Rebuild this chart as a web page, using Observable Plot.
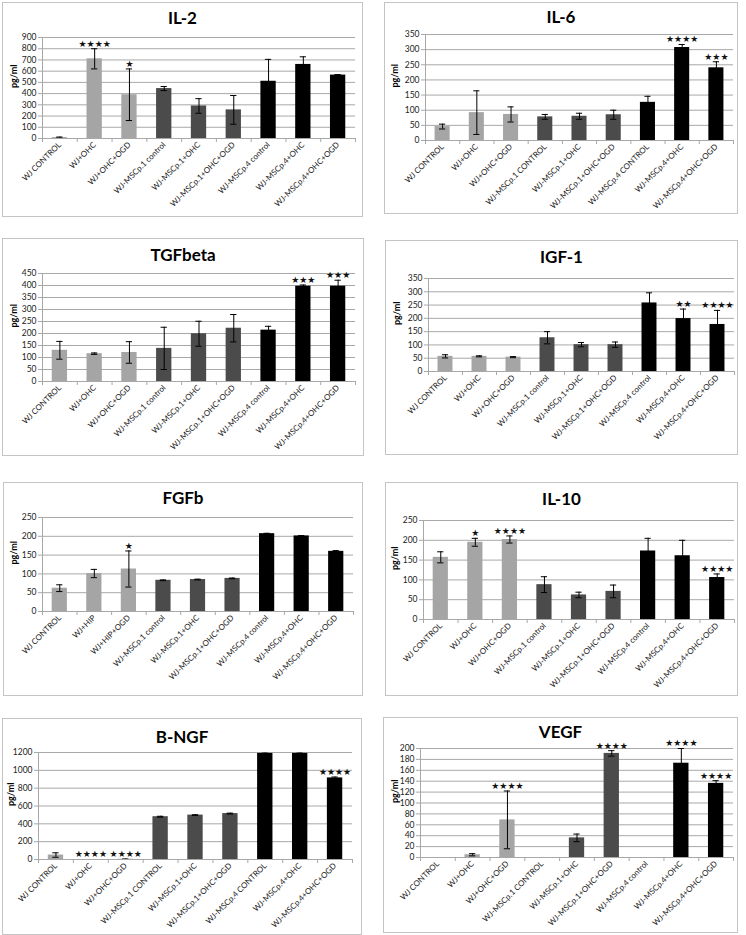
<!DOCTYPE html>
<html>
<head>
<meta charset="utf-8">
<script src="https://cdn.jsdelivr.net/npm/d3@7"></script>
<script src="https://cdn.jsdelivr.net/npm/@observablehq/plot@0.6"></script>
<style>
  body { margin: 0; background: #fff; }
  #root { position: relative; width: 746px; height: 935px; overflow: hidden; font-family: Lato, "Open Sans", sans-serif; }
  .panel { position: absolute; box-sizing: border-box; border: 1px solid #c4c4c4; background: #fff; }
  .panel svg { position: absolute; left: 0; top: 0; }
  .title { position: absolute; left: 0; right: 0; text-align: center; font-weight: bold; font-size: 17px; height: 20px; line-height: 20px; color: #000; }
</style>
</head>
<body>
<div id="root"></div>
<script>
// ---------- categories ----------
const catsLower = ["WJ CONTROL","WJ+OHC","WJ+OHC+OGD","WJ-MSCp.1 control","WJ-MSCp.1+OHC","WJ-MSCp.1+OHC+OGD","WJ-MSCp.4 control","WJ-MSCp.4+OHC","WJ-MSCp.4+OHC+OGD"];
const catsUpper = ["WJ CONTROL","WJ+OHC","WJ+OHC+OGD","WJ-MSCp.1 CONTROL","WJ-MSCp.1+OHC","WJ-MSCp.1+OHC+OGD","WJ-MSCp.4 CONTROL","WJ-MSCp.4+OHC","WJ-MSCp.4+OHC+OGD"];
const catsFGFb  = ["WJ CONTROL","WJ+HIP","WJ+HIP+OGD","WJ-MSCp.1 control","WJ-MSCp.1+OHC","WJ-MSCp.1+OHC+OGD","WJ-MSCp.4 control","WJ-MSCp.4+OHC","WJ-MSCp.4+OHC+OGD"];
const catsVEGF  = ["WJ CONTROL","WJ+OHC","WJ+OHC+OGD","WJ-MSCp.1 CONTROL","WJ-MSCp.1+OHC","WJ-MSCp.1+OHC+OGD","WJ-MSCp.4 control","WJ-MSCp.4+OHC","WJ-MSCp.4+OHC+OGD"];
const groups = [0,0,0,1,1,1,2,2,2];

// ---------- values (pg/ml), errors, significance ----------
const il2Values = [8, 710, 390, 445, 290, 255, 510, 660, 565];
const il2Errors = [5, 90, 230, 18, 65, 128, 195, 68, 5];
const il2Stars  = ["", "★★★★", "★", "", "", "", "", "", ""];
const il2Ticks  = [0,100,200,300,400,500,600,700,800,900];

const il6Values = [46, 92, 86, 78, 80, 85, 126, 307, 240];
const il6Errors = [8, 72, 25, 8, 10, 15, 20, 10, 20];
const il6Stars  = ["", "", "", "", "", "", "", "★★★★", "★★★"];
const il6Ticks  = [0,50,100,150,200,250,300,350];

const tgfValues = [130, 116, 121, 138, 199, 222, 214, 397, 397];
const tgfErrors = [37, 3, 45, 88, 52, 57, 16, 5, 25];
const tgfStars  = ["", "", "", "", "", "", "", "★★★", "★★★"];
const tgfTicks  = [0,50,100,150,200,250,300,350,400,450];

const igfValues = [57, 57, 54, 127, 101, 101, 258, 199, 177];
const igfErrors = [6, 2, 2, 23, 8, 10, 38, 36, 53];
const igfStars  = ["", "", "", "", "", "", "", "★★", "★★★★"];
const igfTicks  = [0,50,100,150,200,250,300,350];

const fgfValues = [62, 101, 113, 83, 85, 88, 207, 201, 160];
const fgfErrors = [9, 11, 48, 1, 1, 1, 1, 1, 2];
const fgfStars  = ["", "", "★", "", "", "", "", "", ""];
const fgfTicks  = [0,50,100,150,200,250];

const il10Values = [157, 195, 202, 88, 62, 71, 173, 161, 106];
const il10Errors = [14, 10, 9, 20, 7, 16, 32, 39, 9];
const il10Stars  = ["", "★", "★★★★", "", "", "", "", "", "★★★★"];
const il10Ticks  = [0,50,100,150,200,250];

const ngfValues = [50, 0, 3, 480, 498, 515, 1190, 1190, 915];
const ngfErrors = [25, 0, 3, 5, 4, 5, 3, 3, 10];
const ngfStars  = ["", "★★★★", "★★★★", "", "", "", "", "", "★★★★"];
const ngfTicks  = [0,200,400,600,800,1000,1200];

const vegfValues = [0, 5, 69, 0, 36, 191, 0, 173, 136];
const vegfErrors = [0, 2, 53, 0, 7, 5, 0, 27, 5];
const vegfStars  = ["", "", "★★★★", "", "", "★★★★", "", "★★★★", "★★★★"];
const vegfTicks  = [0,20,40,60,80,100,120,140,160,180,200];

const titles = ["IL-2","IL-6","TGFbeta","IGF-1","FGFb","IL-10","B-NGF","VEGF"];
const yLabel = "pg/ml";

// ---------- layout (pixels) ----------
const colors = ["#a5a5a5", "#4b4b4b", "#000000"];
const layout = [
  {box:[2,2,362,216],     L:42,  R:355, T:37,  B:138, titleY:18,  labelX:14},
  {box:[384,2,737,213],   L:425, R:733, T:34,  B:140, titleY:17,  labelX:395},
  {box:[2,238,363,455],   L:42,  R:355, T:273, B:381, titleY:255, labelX:14},
  {box:[385,240,737,454], L:428, R:734, T:278, B:371, titleY:257, labelX:397},
  {box:[3,482,362,695],   L:42,  R:353, T:517, B:611, titleY:498, labelX:14},
  {box:[385,482,737,695], L:423, R:734, T:520, B:619, titleY:499, labelX:395},
  {box:[2,718,361,934],   L:38,  R:352, T:752, B:859, titleY:737, labelX:11},
  {box:[383,717,737,932], L:420, R:733, T:748, B:857, titleY:732, labelX:395}
];

const panels = [
  {cats: catsLower, values: il2Values,  errors: il2Errors,  stars: il2Stars,  ticks: il2Ticks},
  {cats: catsUpper, values: il6Values,  errors: il6Errors,  stars: il6Stars,  ticks: il6Ticks},
  {cats: catsLower, values: tgfValues,  errors: tgfErrors,  stars: tgfStars,  ticks: tgfTicks},
  {cats: catsLower, values: igfValues,  errors: igfErrors,  stars: igfStars,  ticks: igfTicks},
  {cats: catsFGFb,  values: fgfValues,  errors: fgfErrors,  stars: fgfStars,  ticks: fgfTicks},
  {cats: catsLower, values: il10Values, errors: il10Errors, stars: il10Stars, ticks: il10Ticks},
  {cats: catsUpper, values: ngfValues,  errors: ngfErrors,  stars: ngfStars,  ticks: ngfTicks},
  {cats: catsVEGF,  values: vegfValues, errors: vegfErrors, stars: vegfStars, ticks: vegfTicks}
];

const root = document.getElementById("root");
const gridColor = "#a8a8a8";

panels.forEach((p, k) => {
  const lay = layout[k];
  const [x0, y0, x1, y1] = lay.box;
  const W = x1 - x0 + 1, H = y1 - y0 + 1;
  const div = document.createElement("div");
  div.className = "panel";
  Object.assign(div.style, {left: x0 + "px", top: y0 + "px", width: W + "px", height: H + "px"});

  const rows = p.cats.map((c, i) => ({i, cat: c, v: p.values[i], e: p.errors[i], s: p.stars[i], g: groups[i]}));
  const barRows = rows.filter(d => d.v > 0);
  const errRows = rows.filter(d => d.e > 0);
  const starRows = rows.filter(d => d.s);
  const n = p.cats.length;
  const centers = p.cats.map((c, i) => i + 0.5);
  const bounds = d3.range(n + 1);
  const yMax = p.ticks[p.ticks.length - 1];

  const innerW = W - 2, innerH = H - 2;
  const mL = lay.L - (x0 + 1), mR = (x0 + 1 + innerW) - lay.R;
  const mT = lay.T - (y0 + 1), mB = (y0 + 1 + innerH) - lay.B;

  const svg = Plot.plot({
    width: innerW, height: innerH,
    marginLeft: mL, marginRight: mR, marginTop: mT, marginBottom: mB,
    style: {fontFamily: "Lato, 'Open Sans', sans-serif", fontSize: "8px", background: "transparent", overflow: "visible", color: "#222"},
    x: {type: "linear", domain: [0, n]},
    y: {type: "linear", domain: [0, yMax]},
    color: {type: "identity"},
    marks: [
      Plot.gridY(p.ticks.filter(t => t > 0), {stroke: gridColor, strokeOpacity: 1}),
      Plot.rectY(barRows, {x1: d => d.i + 0.28, x2: d => d.i + 0.72, y1: 0, y2: "v", fill: d => colors[d.g]}),
      Plot.ruleX(errRows, {x: d => d.i + 0.5, y1: d => Math.max(0, d.v - d.e), y2: d => d.v + d.e, stroke: "#000", strokeWidth: 1}),
      Plot.ruleY(errRows, {y: d => d.v + d.e, x1: d => d.i + 0.41, x2: d => d.i + 0.59, stroke: "#000", strokeWidth: 1}),
      Plot.ruleY(errRows.filter(d => d.v - d.e > 0), {y: d => d.v - d.e, x1: d => d.i + 0.41, x2: d => d.i + 0.59, stroke: "#000", strokeWidth: 1}),
      Plot.text(starRows, {x: d => d.i + 0.5, y: d => d.v + d.e, text: "s", dy: -5, fontSize: 9, fill: "#111", fontFamily: "DejaVu Sans"}),
      Plot.ruleY([0], {stroke: gridColor}),
      Plot.ruleX([0], {stroke: gridColor}),
      Plot.axisY({ticks: p.ticks, tickSize: 4, tickPadding: 2, tickFormat: d => String(d), stroke: gridColor, fill: "#222", label: null, fontSize: 8.5}),
      Plot.axisX({ticks: bounds, tickSize: 4, tickFormat: () => "", stroke: gridColor, label: null}),
      Plot.axisX({ticks: centers, tickSize: 0, tickPadding: 5, tickRotate: -45, tickFormat: d => p.cats[Math.round(d - 0.5)], fill: "#222", label: null, fontSize: 8}),
      Plot.text([yLabel], {frameAnchor: "left", rotate: -90, dx: lay.labelX - lay.L, fontWeight: "bold", fontSize: 9, fill: "#000"})
    ]
  });
  div.appendChild(svg);

  const t = document.createElement("div");
  t.className = "title";
  t.textContent = titles[k];
  t.style.top = (lay.titleY - y0 - 1 - 10) + "px";
  div.appendChild(t);

  root.appendChild(div);
});
</script>
</body>
</html>
